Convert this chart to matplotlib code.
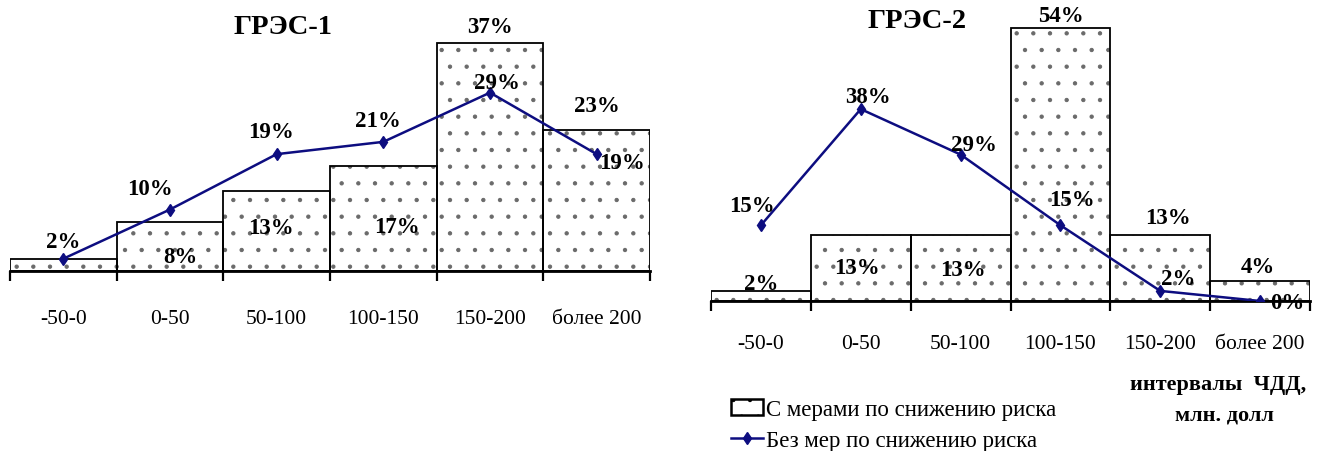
import matplotlib
matplotlib.use("Agg")
import matplotlib.pyplot as plt
from matplotlib.patches import Patch
from matplotlib.lines import Line2D

plt.rcParams['font.family'] = ['Liberation Serif', 'DejaVu Serif']
plt.rcParams['hatch.linewidth'] = 0.7

categories = ["-50-0", "0-50", "50-100", "100-150", "150-200", "более 200"]

# ГРЭС-1
gres1_with = [2, 8, 13, 17, 37, 23]
gres1_without = [2, 10, 19, 21, 29, 19]
# ГРЭС-2
gres2_with = [2, 13, 13, 54, 13, 4]
gres2_without = [15, 38, 29, 15, 2, 0]

legend_with = "С мерами по снижению риска"
legend_without = "Без мер по снижению риска"

LINE_COLOR = "#0d0d80"
W, H = 1324, 452

fig = plt.figure(figsize=(W / 100, H / 100), dpi=100)


def px_axes(x0, x1, base_y, ymax, px_per_unit):
    top = base_y - ymax * px_per_unit
    return fig.add_axes([x0 / W, (H - base_y) / H, (x1 - x0) / W, (base_y - top) / H])


def draw_panel(ax, bars, line, ymax, tick_pad, bar_offsets, line_offsets, skip_line_labels=()):
    x = list(range(len(categories)))
    ax.bar(x, bars, width=1.0, color="white", edgecolor="#6a6a6a", linewidth=0,
           hatch=".", zorder=1)
    ax.bar(x, bars, width=1.0, fill=False, edgecolor="black", linewidth=1.3, zorder=2)
    ax.plot(x, line, color=LINE_COLOR, linewidth=1.8, marker="d", markersize=6,
            zorder=4)
    ax.set_xlim(-0.5, len(categories) - 0.5)
    ax.set_ylim(0, ymax)
    for s in ("top", "right", "left"):
        ax.spines[s].set_visible(False)
    ax.spines["bottom"].set_linewidth(2.0)
    ax.set_yticks([])
    ax.set_xticks(x)
    ax.set_xticklabels(categories, fontsize=15.5)
    ax.tick_params(axis="x", which="major", length=0, pad=tick_pad)
    ax.set_xticks([i - 0.5 for i in range(len(categories) + 1)], minor=True)
    ax.tick_params(axis="x", which="minor", length=7, width=1.6, direction="out")
    ax.patch.set_alpha(0)

    for i, v in enumerate(bars):
        dx, dy = bar_offsets[i]
        ax.annotate(f"{v}%", (i, v), xytext=(dx, dy), textcoords="offset pixels",
                    ha="center", va="center", fontsize=16.5, fontweight="bold", zorder=5)
    for i, v in enumerate(line):
        if i in skip_line_labels:
            continue
        dx, dy = line_offsets[i]
        ax.annotate(f"{v}%", (i, v), xytext=(dx, dy), textcoords="offset pixels",
                    ha="center", va="center", fontsize=16.5, fontweight="bold", zorder=5)


ax1 = px_axes(10, 650, 272, 40, 6.15)
draw_panel(ax1, gres1_with, gres1_without, 40, 27,
           bar_offsets=[(0, 17), (10, -35), (-6, -36), (14, -60), (0, 17), (0, 24)],
           line_offsets=[(0, 17), (-20, 21), (-6, 23), (-5, 21), (7, 10), (25, -8)],
           skip_line_labels=(0,))

ax2 = px_axes(711, 1310, 302, 58, 5.05)
draw_panel(ax2, gres2_with, gres2_without, 58, 24,
           bar_offsets=[(0, 7), (-4, -32), (2, -34), (0, 13), (8, 18), (-2, 14)],
           line_offsets=[(-9, 20), (7, 13), (13, 10), (12, 26), (18, 12), (27, -2)])

fig.text(283 / W, 1 - 28 / H, "ГРЭС-1", ha="center", va="center",
         fontsize=20.5, fontweight="bold")
fig.text(917 / W, 1 - 22 / H, "ГРЭС-2", ha="center", va="center",
         fontsize=20.5, fontweight="bold")

fig.text(1218 / W, 1 - 385 / H, "интервалы  ЧДД,", ha="center", va="center",
         fontsize=16, fontweight="bold")
fig.text(1224 / W, 1 - 416 / H, "млн. долл", ha="center", va="center",
         fontsize=16, fontweight="bold")

handles = [
    Patch(facecolor="white", edgecolor="black", hatch=".", linewidth=1.8),
    Line2D([], [], color=LINE_COLOR, linewidth=1.8, marker="d", markersize=6),
]
fig.legend(handles, [legend_with, legend_without], loc="upper left",
           bbox_to_anchor=(731 / W, 1 - 400 / H), frameon=False, fontsize=16.5,
           handlelength=1.4, handleheight=0.7, handletextpad=0.12,
           labelspacing=0.45, borderaxespad=0, borderpad=0)

fig.savefig("out.png", dpi=100)
